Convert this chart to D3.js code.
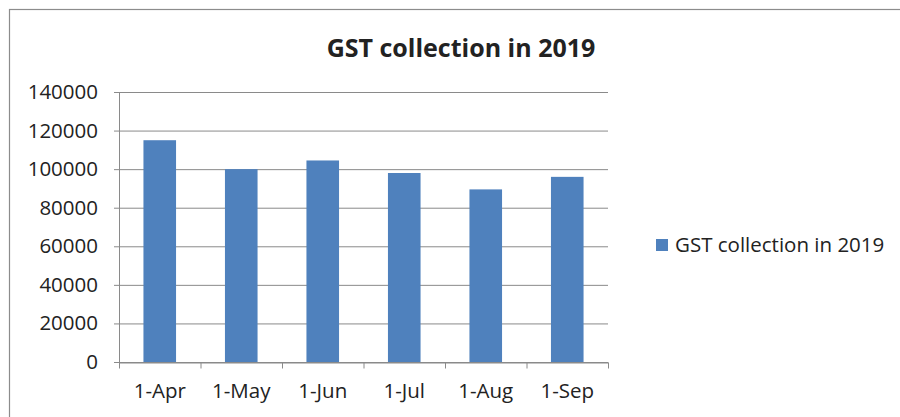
<!DOCTYPE html>
<html>
<head>
<meta charset="utf-8">
<script src="https://cdn.jsdelivr.net/npm/d3@7/dist/d3.min.js"></script>
<style>
  html, body { margin: 0; padding: 0; background: #fff; }
  svg { display: block; }
  text { font-family: "Open Sans", "Noto Sans", sans-serif; fill: #222; }
</style>
</head>
<body>
<svg id="chart" width="900" height="417"></svg>
<script>
// Monthly GST collection, 2019
const categories = ["1-Apr", "1-May", "1-Jun", "1-Jul", "1-Aug", "1-Sep"];
const gstValues = [115000, 100000, 104500, 98000, 89500, 96000];
const yTicks = [0, 20000, 40000, 60000, 80000, 100000, 120000, 140000];
const chartTitle = "GST collection in 2019";
const seriesName = "GST collection in 2019";

const svg = d3.select("#chart");
const plot = { left: 119, right: 608, top: 92, bottom: 362 };
const labelSize = 20.5;

// outer chart frame (runs off the right and bottom edges)
svg.append("rect")
  .attr("x", 9.5).attr("y", 9.5)
  .attr("width", 920).attr("height", 440)
  .attr("fill", "#fff").attr("stroke", "#8c8c8c").attr("stroke-width", 1.2);

const x = d3.scaleBand()
  .domain(categories)
  .range([plot.left, plot.right])
  .paddingInner(0.6)
  .paddingOuter(0.3);

const xb = d3.scaleBand().domain(categories).range([plot.left, plot.right]);

const y = d3.scaleLinear()
  .domain([0, 140000])
  .range([plot.bottom, plot.top]);

// horizontal gridlines with short ticks to the left
const yAxis = d3.axisLeft(y)
  .tickValues(yTicks)
  .tickFormat(d3.format("d"))
  .tickSizeInner(-(plot.right - plot.left))
  .tickSizeOuter(0)
  .tickPadding(21);

const gy = svg.append("g")
  .attr("transform", `translate(${plot.left},0)`)
  .call(yAxis);
gy.select(".domain").remove();
gy.selectAll(".tick line")
  .attr("x1", -5)
  .attr("stroke", "#8a8a8a");
gy.selectAll(".tick text")
  .attr("font-size", labelSize)
  .attr("fill", "#222");

// vertical axis line
svg.append("line")
  .attr("x1", plot.left + 0.5).attr("x2", plot.left + 0.5)
  .attr("y1", plot.top).attr("y2", plot.bottom)
  .attr("stroke", "#8a8a8a");

// bars
svg.append("g")
  .selectAll("rect")
  .data(gstValues)
  .join("rect")
  .attr("x", (d, i) => x(categories[i]))
  .attr("y", d => y(d))
  .attr("width", x.bandwidth())
  .attr("height", d => y(0) - y(d))
  .attr("fill", "#4f81bd");

// category axis with tick marks at band boundaries
const xAxis = d3.axisBottom(xb).tickSize(0).tickPadding(21);
const gx = svg.append("g")
  .attr("transform", `translate(0,${plot.bottom + 0.5})`)
  .call(xAxis);
gx.select(".domain").attr("stroke", "#8a8a8a");
gx.selectAll(".tick text").attr("font-size", labelSize).attr("fill", "#222");
gx.selectAll(".boundary")
  .data(categories.concat([null]))
  .join("line")
  .attr("x1", d => (d ? xb(d) : plot.right) + 0.5)
  .attr("x2", d => (d ? xb(d) : plot.right) + 0.5)
  .attr("y1", 0).attr("y2", 6)
  .attr("stroke", "#8a8a8a");
// short extension of the category axis left of the value axis
svg.append("line")
  .attr("x1", plot.left - 5).attr("x2", plot.left)
  .attr("y1", plot.bottom + 0.5).attr("y2", plot.bottom + 0.5)
  .attr("stroke", "#8a8a8a");

// title
svg.append("text")
  .attr("x", 461).attr("y", 57)
  .attr("text-anchor", "middle")
  .attr("font-size", 25)
  .attr("font-weight", "bold")
  .attr("fill", "#111")
  .text(chartTitle);

// legend
const legend = svg.append("g").attr("transform", "translate(656,239)");
legend.append("rect")
  .attr("width", 12).attr("height", 12)
  .attr("fill", "#4f81bd");
legend.append("text")
  .attr("x", 19).attr("y", 13)
  .attr("font-size", labelSize)
  .text(seriesName);
</script>
</body>
</html>
